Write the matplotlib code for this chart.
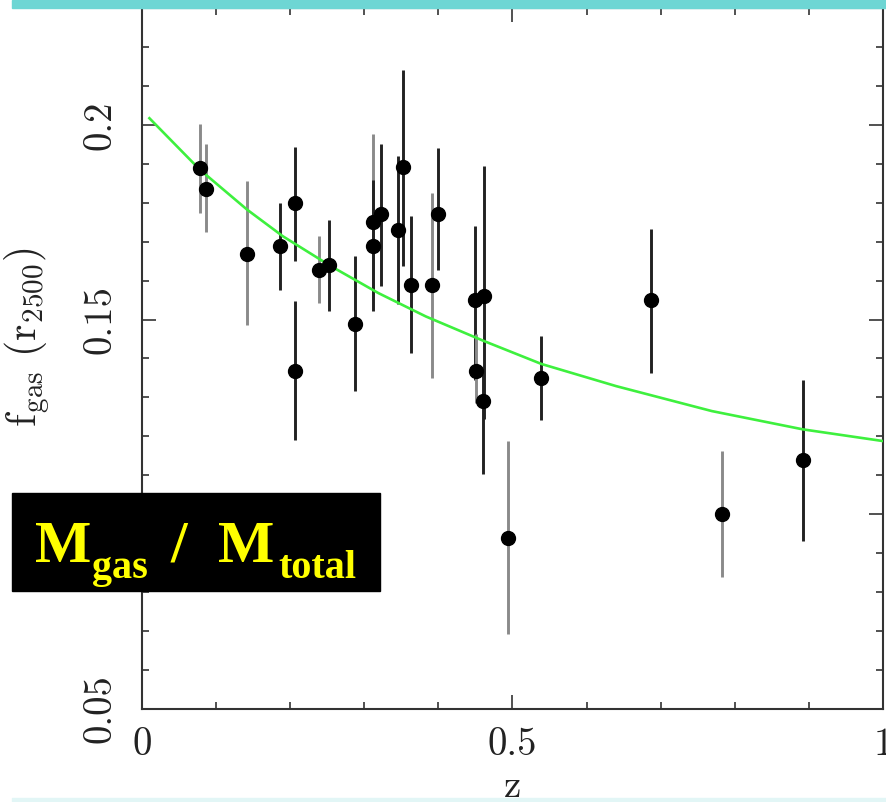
import matplotlib
matplotlib.use("Agg")
import matplotlib.pyplot as plt
import matplotlib.patches as mpatches
from matplotlib.ticker import MultipleLocator, FixedLocator, FixedFormatter

z = [0.078, 0.087, 0.142, 0.186, 0.206, 0.207, 0.239, 0.252, 0.287,
     0.312, 0.312, 0.323, 0.345, 0.352, 0.363, 0.391, 0.399, 0.449,
     0.451, 0.461, 0.460, 0.494, 0.539, 0.687, 0.783, 0.892]
fgas = [0.1889, 0.1836, 0.1669, 0.1690, 0.1799, 0.1369, 0.1628, 0.1640, 0.1489,
        0.1750, 0.1690, 0.1771, 0.1729, 0.1891, 0.1590, 0.1590, 0.1771, 0.1550,
        0.1369, 0.1560, 0.1291, 0.0939, 0.1350, 0.1550, 0.1000, 0.1139]
f_top = [0.2003, 0.1950, 0.1855, 0.1799, 0.1944, 0.1547, 0.1715, 0.1756, 0.1662,
         0.1977, 0.1859, 0.1951, 0.1921, 0.2141, 0.1765, 0.1826, 0.1940, 0.1739,
         0.1462, 0.1895, 0.1359, 0.1188, 0.1457, 0.1733, 0.1162, 0.1346]
f_bot = [0.1774, 0.1726, 0.1485, 0.1577, 0.1651, 0.1192, 0.1543, 0.1521, 0.1316,
         0.1551, 0.1521, 0.1587, 0.1539, 0.1637, 0.1415, 0.1351, 0.1628, 0.1346,
         0.1287, 0.1244, 0.1103, 0.0692, 0.1242, 0.1363, 0.0838, 0.0932]
light_bar = [1, 1, 1, 0, 0, 0, 1, 0, 0,
             1, 0, 0, 0, 0, 0, 1, 0, 0,
             1, 0, 0, 1, 0, 0, 1, 0]

# best-fit model curve (sampled from the figure)
z_fit = [0.010, 0.078, 0.142, 0.190, 0.255, 0.319, 0.383, 0.460,
         0.539, 0.640, 0.769, 0.892, 1.000]
f_fit = [0.2017, 0.1885, 0.1782, 0.1714, 0.1637, 0.1568, 0.1508, 0.1446,
         0.1386, 0.1329, 0.1265, 0.1218, 0.1188]

x_ticks = [0, 0.5, 1]
x_labels = ["0", "0.5", "1"]
y_ticks = [0.05, 0.1, 0.15, 0.2]
y_labels = ["0.05", "", "0.15", "0.2"]   # 0.1 sits under the caption box

W, H = 887, 802
fig = plt.figure(figsize=(W / 100, H / 100), dpi=100)
fig.patch.set_facecolor("white")

ax = fig.add_axes([142 / W, (H - 709) / H, 741 / W, 701 / H])
ax.set_xlim(0, 1)
ax.set_ylim(0.05, 0.23)

# error bars, two shades like the original
for zi, lo, hi, lt in zip(z, f_bot, f_top, light_bar):
    ax.vlines(zi, lo, hi, color="#8a8a8a" if lt else "#222222", lw=2.1, zorder=2)

ax.plot(z_fit, f_fit, color="#3ef03e", lw=1.9, zorder=3,
        solid_joinstyle="round")
ax.plot(z, fgas, "o", color="black", ms=10, zorder=4)

tick_font = "cmr10"
ax.xaxis.set_major_locator(FixedLocator(x_ticks))
ax.xaxis.set_major_formatter(FixedFormatter(x_labels))
ax.xaxis.set_minor_locator(MultipleLocator(0.1))
ax.yaxis.set_major_locator(FixedLocator(y_ticks))
ax.yaxis.set_major_formatter(FixedFormatter(y_labels))
ax.yaxis.set_minor_locator(MultipleLocator(0.01))

ax.tick_params(which="both", direction="in", top=True, right=True,
               color="#333333", width=1.2)
ax.tick_params(which="major", length=10)
ax.tick_params(which="minor", length=5)
ax.tick_params(axis="x", pad=13, labelsize=28)
ax.tick_params(axis="y", pad=17, labelsize=28, labelrotation=90)
for lab in ax.get_xticklabels() + ax.get_yticklabels():
    lab.set_fontfamily(tick_font)
    lab.set_color("#222222")
for lab in ax.get_yticklabels():
    lab.set_verticalalignment("center")

for sp in ax.spines.values():
    sp.set_color("#333333")
    sp.set_linewidth(1.5)

ax.set_xlabel("z", fontfamily=tick_font, fontsize=28, color="#222222")
ax.xaxis.set_label_coords(0.5, -0.086)
ax.set_ylabel(r"$\mathrm{f_{gas}\ (r_{2500})}$", fontsize=30,
              color="#222222", math_fontfamily="cm")
ax.yaxis.set_label_coords(-0.121, 0.53)

# teal banner on top and pale strip at the bottom
fig.patches.append(mpatches.Rectangle((12 / W, (H - 8) / H), 1, 8 / H,
                                      transform=fig.transFigure,
                                      color="#6ed6d4", zorder=5))
fig.patches.append(mpatches.Rectangle((12 / W, 0), 1, 4 / H,
                                      transform=fig.transFigure,
                                      color="#e2f6f6", zorder=5))

# black box with yellow caption M_gas / M_total
fig.patches.append(mpatches.Rectangle((12 / W, (H - 591) / H), 368 / W, 98 / H,
                                      transform=fig.transFigure,
                                      color="black", zorder=5))
cap = dict(color="#ffff00", fontfamily="Liberation Serif", fontweight="bold",
           va="baseline", ha="left", zorder=6)
big, small = 43, 29
fig.text(35 / W, (H - 562) / H, "M", fontsize=big, **cap)
fig.text(92 / W, (H - 578) / H, "gas", fontsize=small, **cap)
fig.text(171 / W, (H - 562) / H, "/", fontsize=big, **cap)
fig.text(218 / W, (H - 562) / H, "M", fontsize=big, **cap)
fig.text(278 / W, (H - 578) / H, "total", fontsize=small, **cap)

fig.savefig("out.png", dpi=100)
